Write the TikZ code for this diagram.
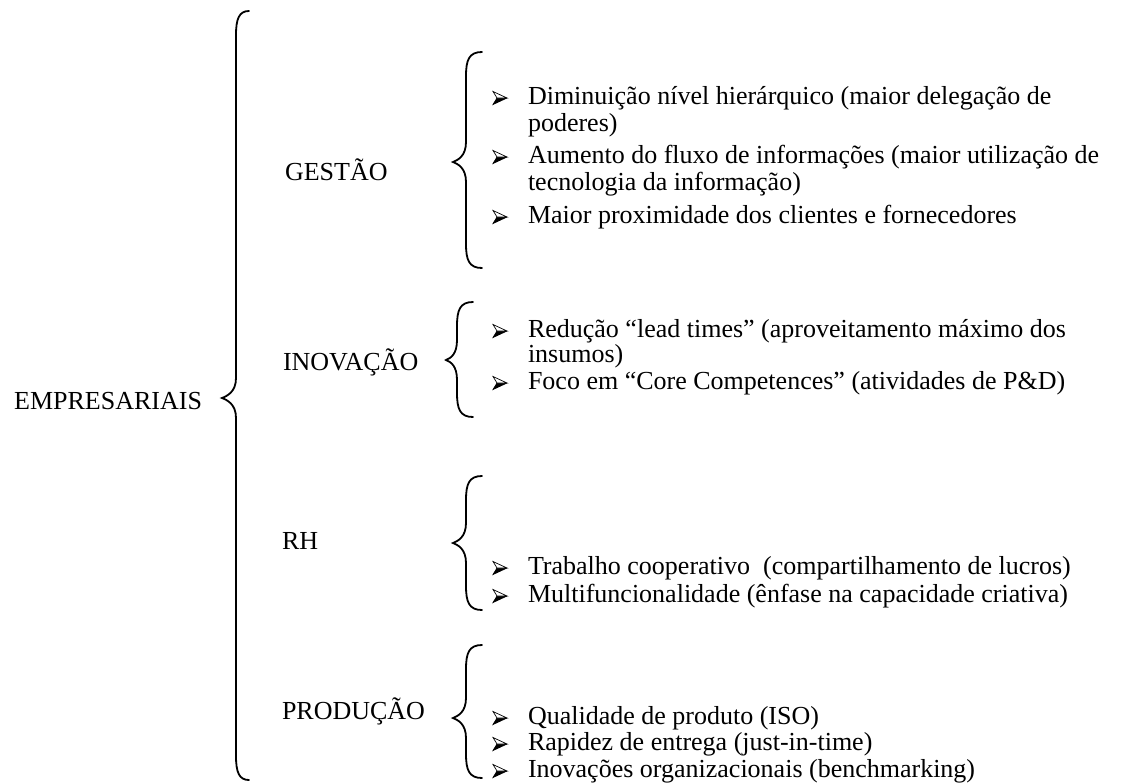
\documentclass[tikz,border=0pt]{standalone}
\usepackage{fontspec}
\setmainfont{Liberation Serif}
\newcommand{\mybrace}[6]{% #1 end x, #2 stem x, #3 tip x, #4 top y, #5 tip y, #6 bottom y
  \draw[brc] (#1,#4) .. controls (#2+3,#4) and (#2,#4+8) .. (#2,#4+24)
    -- (#2,#5-20) .. controls (#2,#5-6) and (#3+5,#5-2) .. (#3,#5)
    .. controls (#3+5,#5+2) and (#2,#5+6) .. (#2,#5+20)
    -- (#2,#6-24) .. controls (#2,#6-8) and (#2+3,#6) .. (#1,#6);}
\begin{document}
\begin{tikzpicture}[x=0.5pt,y=-0.5pt,
  every node/.style={inner sep=0pt,outer sep=0pt,font=\fontsize{13}{13.5}\selectfont},
  lbl/.style={anchor=base west},
  itm/.style={anchor=base west},
  brc/.style={line width=0.9pt,line cap=round},
  bularrow/.pic={
    \fill[black] (4,0) -- (14,0) -- (0,6.5) -- cycle;
    \draw[line width=0.35pt,fill=white,line join=miter] (0,-6.5) -- (14,0) -- (4,0) -- cycle;
    \draw[line width=0.35pt,line join=miter] (4,0) -- (0,6.5) -- (14,0);}]
\useasboundingbox (0,0) rectangle (1123,782);
% main
\node[anchor=base east] (emp) at (202,409) {EMPRESARIAIS};
\mybrace{249}{236}{222}{11}{398}{780}
% GESTAO
\node[lbl] (ges) at (285,180) {GESTÃO};
\mybrace{482}{466}{453}{52}{162}{268}
\pic (b1) at (493,98) {bularrow};
\node[itm] (t1) at (528,104) {Diminuição nível hierárquico (maior delegação de};
\node[itm] (t1b) at (528,131) {poderes)};
\pic (b2) at (493,157) {bularrow};
\node[itm] (t2) at (528,163) {Aumento do fluxo de informações (maior utilização de};
\node[itm] (t2b) at (528,190) {tecnologia da informação)};
\pic (b3) at (493,217) {bularrow};
\node[itm] (t3) at (528,223) {Maior proximidade dos clientes e fornecedores};
% INOVACAO
\node[lbl] (ino) at (283,370) {INOVAÇÃO};
\mybrace{473}{457}{446}{302}{360}{417}
\pic (b4) at (493,331) {bularrow};
\node[itm] (t4) at (528,337) {Redução “lead times” (aproveitamento máximo dos};
\node[itm] (t4b) at (528,362) {insumos)};
\pic (b5) at (493,383) {bularrow};
\node[itm] (t5) at (528,389) {Foco em “Core Competences” (atividades de P\&D)};
% RH
\node[lbl] (rh) at (282,549) {RH};
\mybrace{482}{466}{453}{476}{543}{610}
\pic (b6) at (493,568) {bularrow};
\node[itm] (t6) at (528,574) {Trabalho cooperativo\ \ (compartilhamento de lucros)};
\pic (b7) at (493,596) {bularrow};
\node[itm] (t7) at (528,602) {Multifuncionalidade (ênfase na capacidade criativa)};
% PRODUCAO
\node[lbl] (pro) at (282,719) {PRODUÇÃO};
\mybrace{482}{466}{453}{645}{718}{778}
\pic (b8) at (493,718) {bularrow};
\node[itm] (t8) at (528,724) {Qualidade de produto (ISO)};
\pic (b9) at (493,744) {bularrow};
\node[itm] (t9) at (528,750) {Rapidez de entrega (just-in-time)};
\pic (b10) at (493,771) {bularrow};
\node[itm] (t10) at (528,777) {Inovações organizacionais (benchmarking)};
\end{tikzpicture}
\end{document}
